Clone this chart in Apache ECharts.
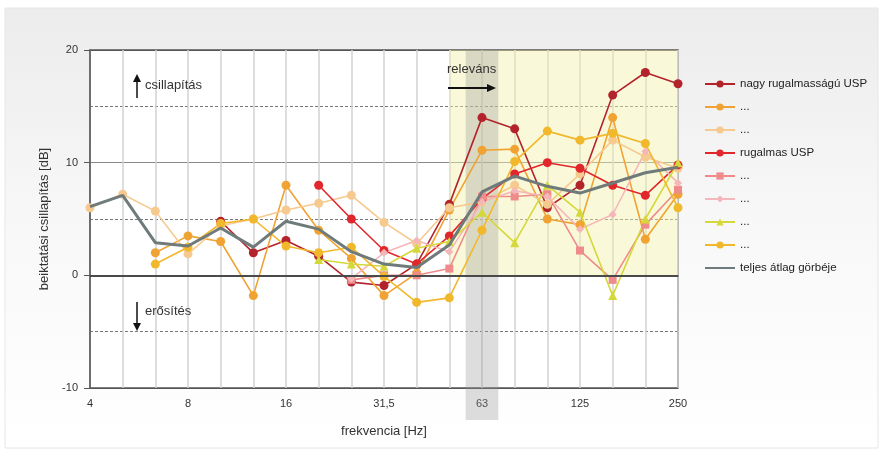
<!DOCTYPE html>
<html>
<head>
<meta charset="utf-8">
<script src="https://cdn.jsdelivr.net/npm/echarts@6/dist/echarts.min.js"></script>
<style>
html,body{margin:0;padding:0;background:#ffffff;}
#chart{width:882px;height:455px;}
</style>
</head>
<body>
<div id="chart"></div>
<script>
// 1/3-octave band centre frequencies [Hz]
const bands = ['4','5','6,3','8','10','12,5','16','20','25','31,5','40','50','63','80','100','125','160','200','250'];

// insertion loss per band [dB]
const nagyRugalmas = [null,null,null,null,4.8,2.0,3.1,1.7,-0.6,-0.9,1.0,6.3,14.0,13.0,6.0,8.0,16.0,18.0,17.0];
const sorozat2     = [null,null,2.0,3.5,3.0,-1.8,8.0,4.0,1.5,-1.8,0.2,5.8,11.1,11.2,5.0,4.5,14.0,3.2,7.2];
const sorozat3     = [6.0,7.2,5.7,1.9,4.4,5.0,5.8,6.4,7.1,4.7,2.8,6.0,6.5,8.0,6.3,9.0,12.0,10.5,9.5];
const rugalmas     = [null,null,null,null,null,null,null,8.0,5.0,2.2,1.0,3.5,6.8,9.0,10.0,9.5,8.0,7.1,9.8];
const sorozat5     = [null,null,null,null,null,null,null,null,-0.4,0.0,0.0,0.6,7.0,7.0,7.2,2.2,-0.4,4.5,7.6];
const sorozat6     = [null,null,null,null,null,null,null,null,-0.3,2.0,3.1,2.1,6.5,7.5,7.0,4.1,5.4,11.0,8.2];
const sorozat7     = [null,null,null,null,null,null,null,1.4,1.0,0.8,2.4,3.0,5.6,2.9,8.0,5.6,-1.8,5.0,10.0];
const sorozat8     = [null,null,1.0,2.5,4.6,5.0,2.6,2.0,2.5,-0.1,-2.4,-2.0,4.0,10.1,12.8,12.0,12.6,11.7,6.0];
const atlag        = [6.1,7.1,2.9,2.6,4.2,2.5,4.8,4.1,2.1,1.0,0.7,2.7,7.4,8.8,7.9,7.3,8.2,9.1,9.6];

// y axis ticks
const yTicks = [-10, 0, 10, 20];

// legend entries
const legendLabels = ['nagy rugalmasságú USP','...','...','rugalmas USP','...','...','...','...','teljes átlag görbéje'];

const seriesDefs = [
  {id:'s1', data:nagyRugalmas, color:'#b3232b', symbol:'circle', size:9},
  {id:'s2', data:sorozat2,     color:'#f0a332', symbol:'circle', size:9},
  {id:'s3', data:sorozat3,     color:'#f6c98e', symbol:'circle', size:9},
  {id:'s4', data:rugalmas,     color:'#e2272c', symbol:'circle', size:9},
  {id:'s5', data:sorozat5,     color:'#ef8b8b', symbol:'rect',   size:8},
  {id:'s6', data:sorozat6,     color:'#f5b6ba', symbol:'diamond',size:8},
  {id:'s7', data:sorozat7,     color:'#d5d83a', symbol:'triangle',size:9},
  {id:'s8', data:sorozat8,     color:'#f2b82b', symbol:'circle', size:9}
];

const chart = echarts.init(document.getElementById('chart'), null, {renderer:'canvas'});

const series = seriesDefs.map((d, i) => ({
  name: d.id,
  type: 'line',
  data: d.data,
  symbol: d.symbol,
  symbolSize: d.size,
  connectNulls: false,
  lineStyle: {color: d.color, width: 1.6},
  itemStyle: {color: d.color},
  z: 3,
  animation: false
}));

// relevant frequency range and the zero line
series[0].markArea = {
  silent: true,
  itemStyle: {color: 'rgba(242,242,170,0.45)'},
  data: [[{xAxis: '50', yAxis: 0}, {xAxis: '250', yAxis: 20}]]
};
series[0].markLine = {
  silent: true,
  symbol: 'none',
  label: {show: false},
  lineStyle: {color: '#4a4a4a', width: 2, type: 'solid'},
  data: [{yAxis: 0}]
};

series.push({
  name: 'avg',
  type: 'line',
  data: atlag,
  showSymbol: false,
  symbol: 'none',
  lineStyle: {color: '#6f7b7b', width: 3},
  itemStyle: {color: '#6f7b7b'},
  z: 4,
  animation: false
});

const nameMap = {};
series.forEach((s, i) => { nameMap[s.name] = legendLabels[i]; });

const legendData = series.map(s => s.name === 'avg'
  ? {name: s.name, itemStyle: {opacity: 0}}
  : {name: s.name});

chart.setOption({
  animation: false,
  textStyle: {fontFamily: 'Liberation Sans, Arial, sans-serif'},
  grid: {left: 90, right: 204, top: 50, bottom: 67, show: true, borderColor: '#555', borderWidth: 1.5, backgroundColor: 'transparent'},
  legend: {
    orient: 'vertical',
    left: 699,
    top: 73,
    itemWidth: 30,
    itemHeight: 9,
    itemGap: 11,
    textStyle: {fontSize: 11.5, color: '#222', fontFamily: 'Liberation Sans, Arial, sans-serif'},
    formatter: name => nameMap[name],
    data: legendData
  },
  xAxis: {
    type: 'category',
    data: bands,
    boundaryGap: false,
    name: 'frekvencia [Hz]',
    nameLocation: 'middle',
    nameGap: 37,
    nameTextStyle: {fontSize: 13, color: '#333'},
    axisLine: {lineStyle: {color: '#555', width: 1.5}},
    axisTick: {show: false},
    axisLabel: {interval: 2, fontSize: 11, color: '#333', margin: 10},
    splitLine: {show: true, interval: 0, lineStyle: {color: '#d2d2d2', width: 1.5}}
  },
  yAxis: {
    type: 'value',
    min: yTicks[0],
    max: yTicks[yTicks.length - 1],
    interval: 10,
    name: 'beiktatási csillapítás [dB]',
    nameLocation: 'middle',
    nameRotate: 90,
    nameGap: 29,
    nameTextStyle: {fontSize: 13, color: '#333'},
    axisLine: {show: true, lineStyle: {color: '#555', width: 1.5}},
    axisTick: {show: true, length: 6, lineStyle: {color: '#555'}},
    axisLabel: {fontSize: 11, color: '#333', margin: 12},
    splitLine: {show: true, lineStyle: {color: ['#555', '#555', '#8a8a8a', '#555'], width: 1.2}},
    minorTick: {show: false, splitNumber: 2},
    minorSplitLine: {show: true, lineStyle: {color: '#777', width: 1, type: [3, 2]}}
  },
  series: series
});

// background panel, highlighted 63 Hz band and annotations
function pix(xIdx, yVal) { return chart.convertToPixel({gridIndex: 0}, [xIdx, yVal]); }
const a = pix(11, 20), b = pix(12, 20), c = pix(13, -10);
const bandLeft = (a[0] + b[0]) / 2, bandRight = (b[0] + c[0]) / 2;

chart.setOption({
  graphic: [
    {type: 'rect', z: -10, silent: true, shape: {x: 5, y: 8, width: 873, height: 440},
     style: {fill: new echarts.graphic.LinearGradient(0, 0, 0, 1, [{offset: 0, color: '#ececec'}, {offset: 0.5, color: '#f8f8f8'}, {offset: 1, color: '#ffffff'}]), stroke: '#e6e6e6', lineWidth: 1}},
    {type: 'rect', z: -9, silent: true, shape: {x: 90, y: 50, width: 588, height: 338}, style: {fill: '#ffffff'}},
    {type: 'rect', z: 1, silent: true, shape: {x: bandLeft, y: a[1], width: bandRight - bandLeft, height: c[1] - a[1] + 32},
     style: {fill: 'rgba(150,150,150,0.32)'}},
    {type: 'text', z: 10, silent: true, left: 145, top: 79, style: {text: 'csillapítás', font: '13px Liberation Sans, Arial, sans-serif', fill: '#333'}},
    {type: 'line', z: 10, silent: true, shape: {x1: 137, y1: 98, x2: 137, y2: 80}, style: {stroke: '#111', lineWidth: 1.5}},
    {type: 'polygon', z: 10, silent: true, shape: {points: [[137, 74], [133, 82], [141, 82]]}, style: {fill: '#111'}},
    {type: 'text', z: 10, silent: true, left: 145, top: 305, style: {text: 'erősítés', font: '13px Liberation Sans, Arial, sans-serif', fill: '#333'}},
    {type: 'line', z: 10, silent: true, shape: {x1: 137, y1: 302, x2: 137, y2: 324}, style: {stroke: '#111', lineWidth: 1.5}},
    {type: 'polygon', z: 10, silent: true, shape: {points: [[137, 331], [133, 323], [141, 323]]}, style: {fill: '#111'}},
    {type: 'text', z: 10, silent: true, left: 447, top: 63, style: {text: 'releváns', font: '13px Liberation Sans, Arial, sans-serif', fill: '#333'}},
    {type: 'line', z: 10, silent: true, shape: {x1: 448, y1: 88, x2: 488, y2: 88}, style: {stroke: '#111', lineWidth: 1.8}},
    {type: 'polygon', z: 10, silent: true, shape: {points: [[496, 88], [487, 84], [487, 92]]}, style: {fill: '#111'}}
  ]
});
</script>
</body>
</html>
